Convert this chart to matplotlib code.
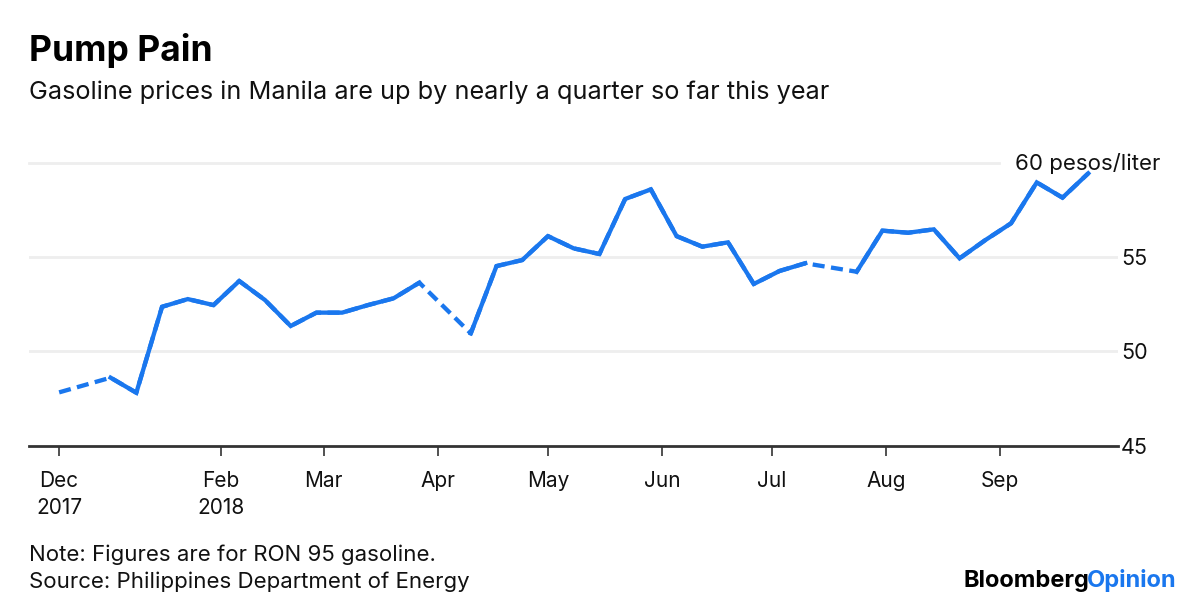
import matplotlib
matplotlib.use("Agg")
import matplotlib.pyplot as plt
import numpy as np
import pandas as pd

plt.rcParams["font.family"] = ["Inter", "Liberation Sans", "DejaVu Sans"]

# weekly RON 95 price, pesos/liter (NaN = week without data, bridged by dashes)
dates = [
    "2017-12-19", "2017-12-26", "2018-01-02", "2018-01-09", "2018-01-16",
    "2018-01-23", "2018-01-30", "2018-02-06", "2018-02-13", "2018-02-20",
    "2018-02-27", "2018-03-06", "2018-03-13", "2018-03-20", "2018-03-27",
    "2018-04-03", "2018-04-10", "2018-04-17", "2018-04-24", "2018-05-01",
    "2018-05-08", "2018-05-15", "2018-05-22", "2018-05-29", "2018-06-05",
    "2018-06-12", "2018-06-19", "2018-06-26", "2018-07-03", "2018-07-10",
    "2018-07-17", "2018-07-24", "2018-07-31", "2018-08-07", "2018-08-14",
    "2018-08-21", "2018-08-28", "2018-09-04", "2018-09-11", "2018-09-18",
    "2018-09-25",
]
prices = [
    47.83, np.nan, 48.61, 47.81, 52.37,
    52.78, 52.46, 53.74, 52.73, 51.35,
    52.06, 52.06, 52.46, 52.82, 53.65,
    np.nan, 50.96, 54.53, 54.85, 56.12,
    55.47, 55.17, 58.09, 58.60, 56.12,
    55.56, 55.79, 53.58, 54.27, 54.68,
    np.nan, 54.23, 56.41, 56.30, 56.48,
    54.94, 55.91, 56.80, 58.97, 58.16,
    59.45,
]

tick_dates = ["2017-12-19", "2018-02-01", "2018-03-01", "2018-04-01", "2018-05-01",
              "2018-06-01", "2018-07-01", "2018-08-01", "2018-09-01"]
tick_labels = ["Dec\n2017", "Feb\n2018", "Mar", "Apr", "May", "Jun", "Jul", "Aug", "Sep"]
y_ticks = [45, 50, 55]

BLUE = "#1a77ee"
INK = "#111111"
W, H = 1200, 609

x = pd.to_datetime(dates)
y = np.array(prices, dtype=float)
have = ~np.isnan(y)

fig = plt.figure(figsize=(W / 100, H / 100), dpi=100)
ax_l, ax_r, ax_t, ax_b = 29, 1118, 163, 445.7
ax = fig.add_axes([ax_l / W, 1 - ax_b / H, (ax_r - ax_l) / W, (ax_b - ax_t) / H])

# dashed bridge across missing weeks, solid line on top
ax.plot(x[have], y[have], color=BLUE, lw=3.1, ls=(0, (2.8, 1.5)),
        dash_capstyle="butt", clip_on=False, zorder=3)
ax.plot(x, y, color=BLUE, lw=3.1, solid_joinstyle="miter", clip_on=False, zorder=4)

ax.set_ylim(45, 60)
ax.set_xlim(pd.Timestamp("2017-12-19") - pd.Timedelta(days=8.2),
            pd.Timestamp("2018-09-01") + pd.Timedelta(days=32.1))

for v in [50, 55]:
    ax.axhline(v, color="#eeeeee", lw=2, zorder=1)
ax.axhline(60, xmax=0.891, color="#eeeeee", lw=2, zorder=1, clip_on=False)
fig.text(1015 / W, 1 - 163 / H, "60 pesos/liter", ha="left", va="center",
         fontsize=16, color=INK)

for s in ["top", "right", "left"]:
    ax.spines[s].set_visible(False)
ax.spines["bottom"].set_color("#333333")
ax.spines["bottom"].set_linewidth(2)

ax.set_xticks(pd.to_datetime(tick_dates))
ax.set_xticklabels(tick_labels, fontsize=15, linespacing=1.45, color=INK)
ax.tick_params(axis="x", length=7, width=1.2, color="#333333", pad=11)

ax.yaxis.tick_right()
ax.set_yticks(y_ticks)
ax.set_yticklabels([str(v) for v in y_ticks], fontsize=15.5, color=INK)
ax.tick_params(axis="y", length=0, pad=2)

fig.text(29 / W, 1 - 50 / H, "Pump Pain", fontsize=25.5, fontweight="bold",
         ha="left", va="center", color="#000000")
fig.text(29 / W, 1 - 92 / H, "Gasoline prices in Manila are up by nearly a quarter so far this year",
         fontsize=18.2, ha="left", va="center", color=INK)
fig.text(29 / W, 1 - 555 / H, "Note: Figures are for RON 95 gasoline.",
         fontsize=16, ha="left", va="center", color=INK)
fig.text(29 / W, 1 - 582 / H, "Source: Philippines Department of Energy",
         fontsize=16, ha="left", va="center", color=INK)

t1 = fig.text(1177 / W, 1 - 581 / H, "Opinion", fontsize=17, fontweight="bold",
              ha="right", va="center", color=BLUE)
fig.canvas.draw()
bb = t1.get_window_extent()
fig.text((bb.x0 + 2) / W, 1 - 581 / H, "Bloomberg", fontsize=17, fontweight="bold",
         ha="right", va="center", color="#000000")

fig.savefig("out.png", dpi=100)
